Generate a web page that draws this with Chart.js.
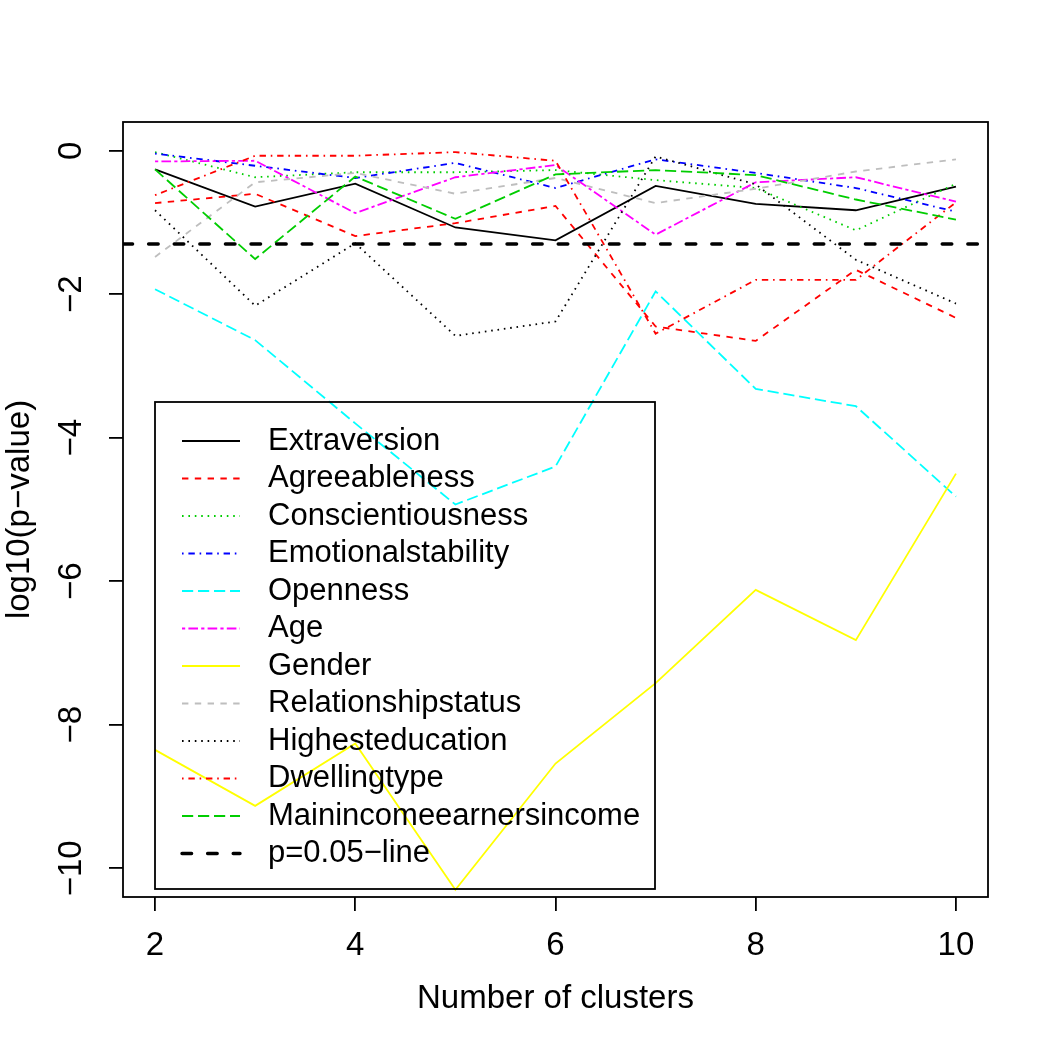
<!DOCTYPE html>
<html>
<head>
<meta charset="utf-8">
<script src="https://cdn.jsdelivr.net/npm/chart.js@4/dist/chart.umd.min.js"></script>
<style>
  html, body { margin: 0; padding: 0; background: #fff; }
</style>
</head>
<body>
<canvas id="myChart" width="1050" height="1050"></canvas>
<script>
// values (log10 of p-values)
let clusters = [2, 3, 4, 5, 6, 7, 8, 9, 10];
let xTicks = [2, 4, 6, 8, 10];
let yTicks = [0, -2, -4, -6, -8, -10];
let pLine = Math.log10(0.05);

let extraversion = [-0.26, -0.78, -0.46, -1.07, -1.25, -0.49, -0.74, -0.83, -0.50];
let agreeableness = [-0.73, -0.60, -1.19, -1.01, -0.77, -2.45, -2.65, -1.66, -2.33];
let conscientiousness = [-0.02, -0.37, -0.30, -0.30, -0.27, -0.41, -0.52, -1.11, -0.46];
let emotionalstability = [-0.04, -0.21, -0.38, -0.17, -0.52, -0.12, -0.31, -0.52, -0.85];
let openness = [-1.93, -2.64, -3.80, -4.93, -4.40, -1.96, -3.32, -3.56, -4.82];
let age = [-0.15, -0.14, -0.87, -0.37, -0.20, -1.17, -0.44, -0.37, -0.71];
let gender = [-8.35, -9.13, -8.26, -10.30, -8.54, -7.42, -6.12, -6.82, -4.50];
let relationshipstatus = [-1.48, -0.44, -0.31, -0.60, -0.38, -0.73, -0.53, -0.29, -0.12];
let highesteducation = [-0.83, -2.16, -1.29, -2.58, -2.38, -0.08, -0.47, -1.52, -2.13];
let dwellingtype = [-0.62, -0.07, -0.07, -0.02, -0.14, -2.55, -1.80, -1.80, -0.72];
let mainincome = [-0.26, -1.51, -0.36, -0.95, -0.33, -0.27, -0.34, -0.68, -0.96];

let seriesNames = ['Extraversion', 'Agreeableness', 'Conscientiousness', 'Emotionalstability', 'Openness',
  'Age', 'Gender', 'Relationshipstatus', 'Highesteducation', 'Dwellingtype', 'Mainincomeearnersincome'];
let seriesValues = [extraversion, agreeableness, conscientiousness, emotionalstability, openness,
  age, gender, relationshipstatus, highesteducation, dwellingtype, mainincome];

// R palette + lty cycling
let seriesColors = ['#000000', '#FF0000', '#00CD00', '#0000FF', '#00FFFF', '#FF00FF', '#FFFF00', '#BEBEBE', '#000000', '#FF0000', '#00CD00'];
let lty = {
  solid: [],
  dashed: [6.4, 6.4],
  dotted: [1.6, 4.8],
  dotdash: [1.6, 4.8, 6.4, 4.8],
  longdash: [11.2, 4.8],
  twodash: [3.2, 3.2, 9.6, 3.2]
};
let seriesLty = ['solid', 'dashed', 'dotted', 'dotdash', 'longdash', 'twodash', 'solid', 'dashed', 'dotted', 'dotdash', 'longdash'];

let FONT = '"Liberation Sans", Arial, Helvetica, sans-serif';
let xMin = 1.68, xMax = 10.32;

let fmt = v => v < 0 ? '\u2212' + Math.abs(v) : String(v);

let datasets = seriesNames.map((name, i) => ({
  label: name,
  data: clusters.map((c, j) => ({ x: c, y: seriesValues[i][j] })),
  borderColor: seriesColors[i],
  borderWidth: 1.8,
  borderDash: lty[seriesLty[i]],
  borderCapStyle: 'butt',
  pointRadius: 0,
  tension: 0,
  fill: false,
  order: seriesNames.length - i + 1
}));

datasets.push({
  label: 'p=0.05\u2212line',
  data: [{ x: xMin, y: pLine }, { x: xMax, y: pLine }],
  borderColor: '#000000',
  borderWidth: 3.4,
  borderDash: [9.6, 16],
  borderCapStyle: 'round',
  pointRadius: 0,
  fill: false,
  order: 0
});

// frame, rotated y labels and the legend box, drawn the R way
let rExtras = {
  id: 'rExtras',
  afterDraw(chart) {
    let ctx = chart.ctx, a = chart.chartArea, ys = chart.scales.y;
    ctx.save();
    ctx.strokeStyle = '#000';
    ctx.lineWidth = 1.8;
    ctx.setLineDash([]);
    ctx.strokeRect(a.left, a.top, a.right - a.left, a.bottom - a.top);

    ctx.fillStyle = '#000';
    ctx.font = '33px ' + FONT;
    ctx.textAlign = 'center';
    ctx.textBaseline = 'middle';
    ys.ticks.forEach(t => {
      ctx.save();
      ctx.translate(72, ys.getPixelForValue(t.value));
      ctx.rotate(-Math.PI / 2);
      ctx.fillText(fmt(t.value), 0, 0);
      ctx.restore();
    });

    // legend
    ctx.font = '31px ' + FONT;
    ctx.lineWidth = 1.8;
    ctx.strokeRect(155, 402, 500, 487);
    ctx.textAlign = 'left';
    chart.data.datasets.forEach((ds, i) => {
      let y = 441 + i * 37.5;
      ctx.strokeStyle = ds.borderColor;
      ctx.lineWidth = ds.borderWidth;
      ctx.lineCap = ds.borderCapStyle;
      ctx.setLineDash(ds.borderDash);
      ctx.beginPath();
      ctx.moveTo(182, y);
      ctx.lineTo(240, y);
      ctx.stroke();
      ctx.fillText(ds.label, 268, y);
    });
    ctx.restore();
  }
};

new Chart(document.getElementById('myChart'), {
  type: 'line',
  data: { datasets: datasets },
  options: {
    responsive: false,
    animation: false,
    devicePixelRatio: 1,
    layout: { padding: { left: 0, top: 122, right: 62, bottom: 0 } },
    plugins: {
      legend: { display: false },
      tooltip: { enabled: false }
    },
    scales: {
      x: {
        type: 'linear',
        min: xMin,
        max: xMax,
        afterBuildTicks: s => { s.ticks = xTicks.map(v => ({ value: v })); },
        afterFit: s => { s.height = 153; },
        grid: { drawOnChartArea: false, drawTicks: true, tickLength: 14, color: '#000', lineWidth: 1.8 },
        border: { display: false },
        ticks: { font: { family: FONT, size: 33 }, color: '#000', padding: 15, maxRotation: 0, callback: v => fmt(v) },
        title: { display: true, text: 'Number of clusters', font: { family: FONT, size: 33 }, color: '#000', padding: { bottom: 31 } }
      },
      y: {
        type: 'linear',
        min: -10.4,
        max: 0.4,
        afterBuildTicks: s => { s.ticks = yTicks.map(v => ({ value: v })); },
        afterFit: s => { s.width = 123; },
        grid: { drawOnChartArea: false, drawTicks: true, tickLength: 14, color: '#000', lineWidth: 1.8 },
        border: { display: false },
        ticks: { display: false },
        title: { display: true, text: 'log10(p\u2212value)', font: { family: FONT, size: 33 }, color: '#000', padding: { top: 0 } }
      }
    }
  },
  plugins: [rExtras]
});
</script>
</body>
</html>
